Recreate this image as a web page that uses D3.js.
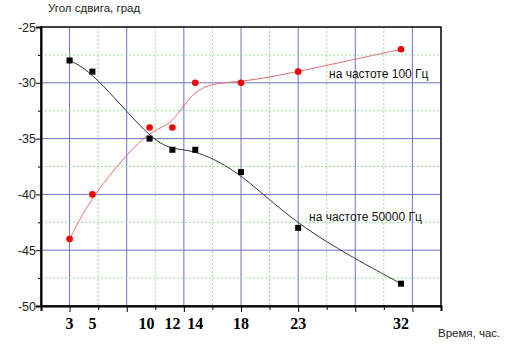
<!DOCTYPE html>
<html>
<head>
<meta charset="utf-8">
<script src="https://cdn.jsdelivr.net/npm/d3@7"></script>
<style>
  body { margin: 0; background: #fff; }
  svg { display: block; }
</style>
</head>
<body>
<svg id="chart" width="510" height="352"></svg>
<script>
// hours of measurement
const hours = [3, 5, 10, 12, 14, 18, 23, 32];
// phase shift, deg
const at100 = [-44, -40, -34, -34, -30, -30, -29, -27];
const at50000 = [-28, -29, -35, -36, -36, -38, -43, -48];
const yTicks = [-50, -45, -40, -35, -30, -25];

const W = 510, H = 352;
const plot = {left: 41, right: 441, top: 27, bottom: 306};

const svg = d3.select("#chart");

const x = d3.scaleLinear().domain([0.5, 35.5]).range([plot.left, plot.right]);
const y = d3.scaleLinear().domain([-50, -25]).range([plot.bottom, plot.top]);

// grid: blue every 5 h starting at 3, green dotted in between
const gridX = d3.range(0, 15).map(k => 0.5 + 2.5 * k);
const gridY = d3.range(-50, -24.9, 2.5);

const grid = svg.append("g");
gridX.forEach((v, i) => {
  if (i === 0 || i === 14) return;
  const major = i % 2 === 1;
  grid.append("line")
    .attr("x1", x(v)).attr("x2", x(v))
    .attr("y1", plot.top).attr("y2", plot.bottom)
    .attr("stroke", major ? "#7070c8" : "#a0dca0")
    .attr("stroke-width", 1)
    .attr("stroke-dasharray", major ? null : "2,2");
});
gridY.forEach((v, i) => {
  if (i === 0 || i === gridY.length - 1) return;
  const major = i % 2 === 0;
  grid.append("line")
    .attr("x1", plot.left).attr("x2", plot.right)
    .attr("y1", y(v)).attr("y2", y(v))
    .attr("stroke", major ? "#7070c8" : "#a0dca0")
    .attr("stroke-width", 1)
    .attr("stroke-dasharray", major ? null : "2,2");
});

// frame
svg.append("rect")
  .attr("x", plot.left).attr("y", plot.top)
  .attr("width", plot.right - plot.left).attr("height", plot.bottom - plot.top)
  .attr("fill", "none").attr("stroke", "#000").attr("stroke-width", 1.5);

// y axis
const yAxis = d3.axisLeft(y).tickValues(gridY).tickSize(5)
  .tickFormat(d => yTicks.includes(d) ? d : "");
const gy = svg.append("g").attr("transform", `translate(${plot.left},0)`).call(yAxis);
gy.select(".domain").attr("stroke-width", 2);
gy.selectAll(".tick line").attr("x2", d => yTicks.includes(d) ? -5 : -3);
gy.selectAll(".tick text")
  .attr("font-family", "Liberation Sans, Arial, sans-serif")
  .attr("font-size", 12.5).attr("fill", "#222").attr("x", -5);

// x axis (ticks only, labels are the hours)
const xAxis = d3.axisBottom(x).tickValues(gridX).tickSize(5).tickFormat("");
const gx = svg.append("g").attr("transform", `translate(0,${plot.bottom})`).call(xAxis);
gx.select(".domain").attr("stroke-width", 2);
gx.selectAll(".tick line").attr("y2", (d, i) => i % 2 === 1 ? 6 : 4);

svg.append("g").selectAll("text")
  .data(hours).join("text")
  .attr("x", d => x(d) - (d === 10 ? 3 : 0))
  .attr("y", 329)
  .attr("text-anchor", "middle")
  .attr("font-family", "Liberation Serif, Times New Roman, serif")
  .attr("font-weight", "bold")
  .attr("font-size", 16)
  .text(d => d);

// curves
const line = (vals) => d3.line()
  .x((d, i) => x(hours[i])).y(d => y(d))
  .curve(d3.curveBasis)(vals);

svg.append("path").attr("d", line(at100))
  .attr("fill", "none").attr("stroke", "#e07070").attr("stroke-width", 1);
svg.append("path").attr("d", line(at50000))
  .attr("fill", "none").attr("stroke", "#333").attr("stroke-width", 1);

// markers
svg.append("g").selectAll("circle")
  .data(at100).join("circle")
  .attr("cx", (d, i) => x(hours[i])).attr("cy", d => y(d))
  .attr("r", 3.3).attr("fill", "#f00000");
svg.append("g").selectAll("rect")
  .data(at50000).join("rect")
  .attr("x", (d, i) => x(hours[i]) - 3).attr("y", d => y(d) - 3)
  .attr("width", 6).attr("height", 6).attr("fill", "#000");

// labels
const sans = "Liberation Sans, Arial, sans-serif";
svg.append("text").attr("x", 48).attr("y", 12)
  .attr("font-family", sans).attr("font-size", 11.5).attr("fill", "#222")
  .text("Угол сдвига, град");
svg.append("text").attr("x", 438).attr("y", 337)
  .attr("font-family", sans).attr("font-size", 11.5).attr("fill", "#222")
  .text("Время, час.");
svg.append("text").attr("x", 329).attr("y", 78)
  .attr("font-family", sans).attr("font-size", 12).attr("fill", "#111")
  .text("на частоте 100 Гц");
svg.append("text").attr("x", 309).attr("y", 221)
  .attr("font-family", sans).attr("font-size", 12).attr("fill", "#111")
  .text("на частоте 50000 Гц");
</script>
</body>
</html>
